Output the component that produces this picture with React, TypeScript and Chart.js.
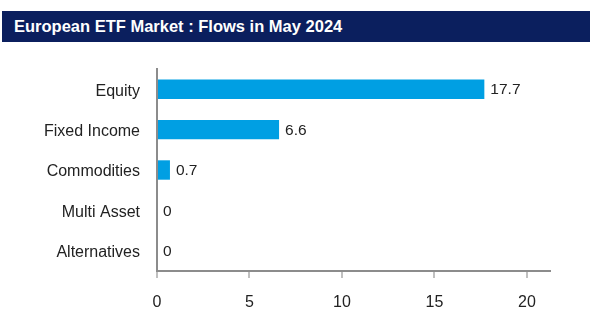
import React, { useEffect, useRef } from "react";
import { Chart, registerables } from "chart.js";

Chart.register(...registerables);

const TITLE = "European ETF Market : Flows in May 2024";
const categories = ["Equity", "Fixed Income", "Commodities", "Multi Asset", "Alternatives"];
const flows = [17.7, 6.6, 0.7, 0, 0];
const flowLabels = ["17.7", "6.6", "0.7", "0", "0"];
const xTicks = [0, 5, 10, 15, 20];

const FONT = "'Liberation Sans', Arial, sans-serif";

const valueLabelPlugin = {
  id: "valueLabels",
  afterDatasetsDraw(chart: any) {
    const ctx = chart.ctx;
    const meta = chart.getDatasetMeta(0);
    ctx.save();
    ctx.font = `15.5px ${FONT}`;
    ctx.fillStyle = "#222222";
    ctx.textAlign = "left";
    ctx.textBaseline = "middle";
    meta.data.forEach((bar: any, i: number) => {
      ctx.fillText(flowLabels[i], bar.x + 6, bar.y + 1);
    });
    ctx.restore();
  },
};

export default function App() {
  const ref = useRef<HTMLCanvasElement>(null);
  useEffect(() => {
    if (!ref.current) return;
    const chart = new Chart(ref.current, {
      type: "bar",
      data: {
        labels: categories,
        datasets: [
          {
            data: flows,
            backgroundColor: "#009fe3",
            borderWidth: 0,
            categoryPercentage: 1,
            barPercentage: 0.48,
          },
        ],
      },
      options: {
        indexAxis: "y",
        animation: false,
        responsive: false,
        maintainAspectRatio: false,
        layout: { padding: { top: 69, right: 40, bottom: 0, left: 0 } },
        plugins: {
          legend: { display: false },
          title: { display: false },
          tooltip: { enabled: false },
        },
        scales: {
          x: {
            min: 0,
            max: 21.25,
            afterBuildTicks(scale: any) {
              scale.ticks = xTicks.map((v) => ({ value: v }));
            },
            afterFit(scale: any) {
              scale.height = 328 - 271;
            },
            grid: {
              drawOnChartArea: false,
              drawTicks: true,
              tickLength: 7,
              color: "#c0c0c0",
              lineWidth: 2,
            },
            border: { display: true, color: "#8c8c8c", width: 2 },
            ticks: {
              color: "#222222",
              font: { family: FONT, size: 16 },
              padding: 15,
            },
          },
          y: {
            afterFit(scale: any) {
              scale.width = 157;
            },
            grid: { display: false, drawTicks: false },
            border: { display: true, color: "#8c8c8c", width: 2 },
            ticks: {
              color: "#222222",
              font: { family: FONT, size: 16 },
              padding: 17,
              labelOffset: 2,
            },
          },
        },
      },
      plugins: [valueLabelPlugin],
    });
    return () => chart.destroy();
  }, []);

  return (
    <div style={{ position: "fixed", left: 0, top: 0, width: 590, height: 328, background: "#ffffff" }}>
      <div
        style={{
          position: "absolute",
          left: 2,
          top: 11,
          width: 588,
          height: 31,
          background: "#0b1f5e",
          color: "#ffffff",
          fontFamily: FONT,
          fontWeight: "bold",
          fontSize: 16.5,
          lineHeight: "31px",
          paddingLeft: 12,
          boxSizing: "border-box",
          whiteSpace: "nowrap",
        }}
      >
        {TITLE}
      </div>
      <canvas
        ref={ref}
        width={590}
        height={328}
        style={{ position: "absolute", left: 0, top: 0, width: 590, height: 328 }}
      />
    </div>
  );
}
